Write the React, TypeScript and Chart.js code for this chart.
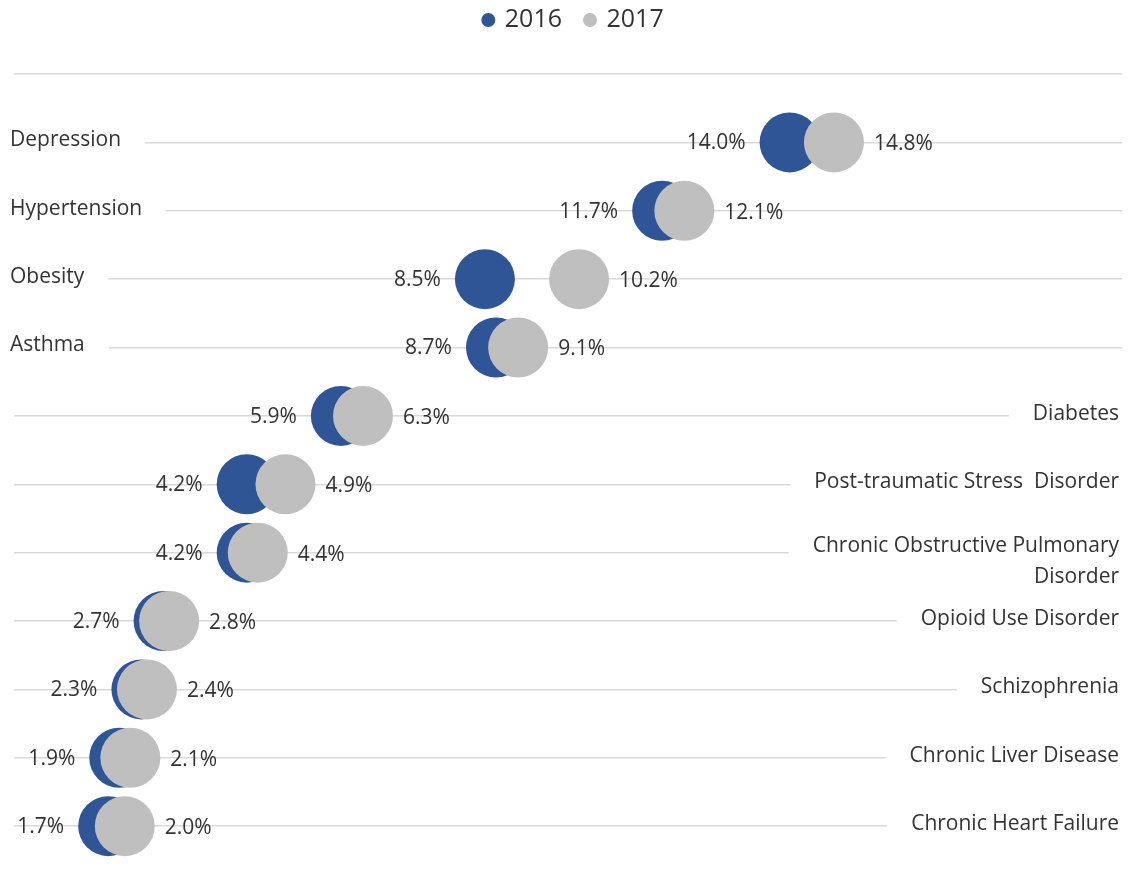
import React, { useEffect, useRef } from 'react';
import { Chart, registerables } from 'chart.js';

Chart.register(...registerables);

// ---- data ----
const categories: (string | string[])[] = [
  'Depression',
  'Hypertension',
  'Obesity',
  'Asthma',
  'Diabetes',
  'Post-traumatic Stress  Disorder',
  ['Chronic Obstructive Pulmonary', 'Disorder'],
  'Opioid Use Disorder',
  'Schizophrenia',
  'Chronic Liver Disease',
  'Chronic Heart Failure',
];
const values2016 = [14.0, 11.7, 8.5, 8.7, 5.9, 4.2, 4.2, 2.7, 2.3, 1.9, 1.7];
const values2017 = [14.8, 12.1, 10.2, 9.1, 6.3, 4.9, 4.4, 2.8, 2.4, 2.1, 2.0];
const seriesNames = ['2016', '2017'];
const gridRows = [1, 2, 3, 4, 5, 6, 7, 8, 9, 10, 11, 12];

const FONT = '"Open Sans", "Noto Sans", sans-serif';
const COLOR_2016 = '#2F5597';
const COLOR_2017 = '#BFBFBF';
const TEXT = '#333333';
const R = 30;

const rowValue = (i: number) => categories.length - i;

const labelPlugin = {
  id: 'dotLabels',
  afterDatasetsDraw(chart: any) {
    const ctx = chart.ctx as CanvasRenderingContext2D;
    const xs = chart.scales.x;
    const ys = chart.scales.y;
    ctx.save();
    ctx.textBaseline = 'middle';
    categories.forEach((cat, i) => {
      const y = ys.getPixelForValue(rowValue(i));
      const x16 = xs.getPixelForValue(values2016[i]);
      const x17 = xs.getPixelForValue(values2017[i]);
      // value labels
      ctx.font = `21px ${FONT}`;
      ctx.fillStyle = TEXT;
      ctx.textAlign = 'right';
      ctx.fillText(values2016[i].toFixed(1) + '%', x16 - R - 14, y + 1);
      ctx.textAlign = 'left';
      ctx.fillText(values2017[i].toFixed(1) + '%', x17 + R + 10, y + 2);

      // category labels
      const lines = Array.isArray(cat) ? cat : [cat];
      ctx.font = `21px ${FONT}`;
      const w = Math.max(...lines.map((l) => ctx.measureText(l).width));
      const leftSide = values2016[i] > 7;
      const gap = 24;
      const firstY = lines.length > 1 ? y - 7 : y - 2;
      ctx.fillStyle = '#ffffff';
      if (leftSide) {
        const x0 = 10;
        ctx.fillRect(0, y - 14, x0 + w + gap, 28);
        ctx.fillStyle = TEXT;
        ctx.textAlign = 'left';
        lines.forEach((l, k) => ctx.fillText(l, x0, firstY + k * 31));
      } else {
        const x1 = 1119;
        ctx.fillRect(x1 - w - gap, y - 14, chart.width - (x1 - w - gap), 28);
        ctx.fillStyle = TEXT;
        ctx.textAlign = 'right';
        lines.forEach((l, k) => ctx.fillText(l, x1, firstY + k * 31));
      }
    });
    ctx.restore();
  },
};

const legendPlugin = {
  id: 'topLegend',
  afterDraw(chart: any) {
    const ctx = chart.ctx as CanvasRenderingContext2D;
    ctx.save();
    ctx.font = `25px ${FONT}`;
    ctx.textBaseline = 'middle';
    ctx.textAlign = 'left';
    const r = 7;
    const textGap = 9.5;
    const itemGap = 21;
    const widths = seriesNames.map((n) => ctx.measureText(n).width);
    const itemW = widths.map((w) => 2 * r + textGap + w);
    const total = itemW.reduce((a, b) => a + b, 0) + itemGap * (seriesNames.length - 1);
    let x = chart.width / 2 - total / 2 + 7;
    seriesNames.forEach((name, k) => {
      ctx.fillStyle = chart.data.datasets[k].backgroundColor;
      ctx.beginPath();
      ctx.arc(x + r, 20, r, 0, Math.PI * 2);
      ctx.fill();
      ctx.fillStyle = TEXT;
      ctx.fillText(name, x + 2 * r + textGap, 20);
      x += itemW[k] + itemGap;
    });
    ctx.restore();
  },
};

export default function App() {
  const ref = useRef<HTMLCanvasElement | null>(null);
  useEffect(() => {
    if (!ref.current) return;
    const chart = new Chart(ref.current, {
      type: 'scatter',
      data: {
        datasets: [
          {
            label: seriesNames[0],
            data: values2016.map((v, i) => ({ x: v, y: rowValue(i) })),
            backgroundColor: COLOR_2016,
            borderWidth: 0,
            pointRadius: R,
            pointHoverRadius: R,
            order: 2,
          },
          {
            label: seriesNames[1],
            data: values2017.map((v, i) => ({ x: v, y: rowValue(i) })),
            backgroundColor: COLOR_2017,
            borderWidth: 0,
            pointRadius: R,
            pointHoverRadius: R,
            order: 1,
          },
        ],
      },
      options: {
        responsive: false,
        animation: false,
        events: [],
        clip: false,
        layout: { autoPadding: false, padding: { top: 74, left: 14, right: 9, bottom: 16 } },
        plugins: {
          legend: { display: false },
          tooltip: { enabled: false },
        },
        scales: {
          x: { type: 'linear', min: 0, max: 20, display: false },
          y: {
            type: 'linear',
            min: 0.3,
            max: 12,
            afterBuildTicks: (axis: any) => {
              axis.ticks = gridRows.map((v) => ({ value: v }));
            },
            ticks: { display: false },
            border: { display: false },
            grid: { color: '#D9D9D9', lineWidth: 1.5, drawTicks: false },
          },
        },
      },
      plugins: [labelPlugin, legendPlugin],
    });
    return () => chart.destroy();
  }, []);
  return (
    <div style={{ position: 'absolute', left: 0, top: 0, width: 1131, height: 890, background: '#fff' }}>
      <canvas ref={ref} width={1131} height={890} style={{ display: 'block' }} />
    </div>
  );
}
